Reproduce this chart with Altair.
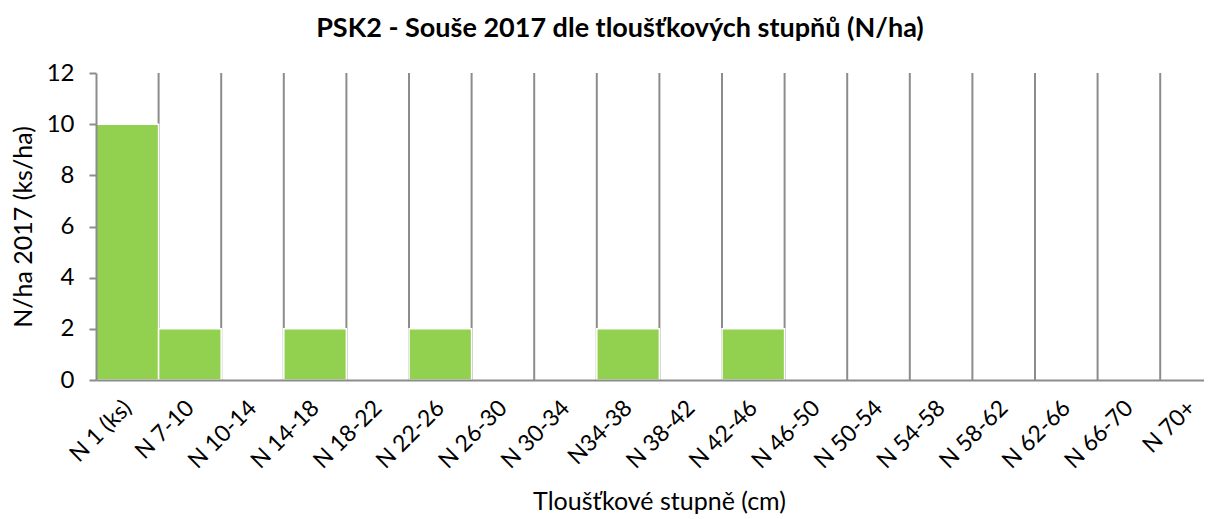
import json
import altair as alt
import pandas as pd

categories = ["N 1 (ks)", "N 7-10", "N 10-14", "N 14-18", "N 18-22", "N 22-26",
              "N 26-30", "N 30-34", "N34-38", "N 38-42", "N 42-46", "N 46-50",
              "N 50-54", "N 54-58", "N 58-62", "N 62-66", "N 66-70", "N 70+"]
values = [10, 2, 0, 2, 0, 2, 0, 0, 2, 0, 2, 0, 0, 0, 0, 0, 0, 0]
y_ticks = [0, 2, 4, 6, 8, 10, 12]

n = len(categories)
df = pd.DataFrame({"cat": categories, "val": values,
                   "pos": list(range(n)), "pos_end": [i + 1 for i in range(n)]})
grid_df = pd.DataFrame({"pos": list(range(1, n))})
label_pos = [i + 0.5 for i in range(n)]
label_expr = json.dumps(categories, ensure_ascii=False) + "[floor(datum.value)]"

FONT = "Lato"
GRAY = "#8c8c8c"
W = 1108
BAND = 62.6

xscale = alt.Scale(domain=[0, W / BAND], nice=False, zero=False)
yscale = alt.Scale(domain=[0, 12], nice=False)

xaxis = alt.Axis(values=label_pos, labelExpr=label_expr, labelAngle=-45,
                 labelFont=FONT, labelFontSize=23, labelColor="#000000",
                 ticks=False, domainColor=GRAY, domainWidth=2, labelPadding=24,
                 titleFont=FONT, titleFontSize=25, titleFontWeight="normal",
                 titleColor="#000000", titlePadding=17, titleX=563, grid=False,
                 labelAlign="right", labelBaseline="middle", labelOverlap=False,
                 labelFlush=False, zindex=1)

rules = alt.Chart(grid_df).mark_rule(color=GRAY, strokeWidth=2).encode(
    x=alt.X("pos:Q", scale=xscale, axis=xaxis, title="Tloušťkové stupně (cm)"),
)

bars = alt.Chart(df).transform_filter("datum.val > 0").mark_bar(
    color="#92D050", stroke="white", strokeWidth=1.5, clip=True
).encode(
    x=alt.X("pos:Q", scale=xscale, axis=xaxis, title="Tloušťkové stupně (cm)"),
    x2="pos_end:Q",
    y=alt.Y("val:Q", scale=yscale, title="N/ha 2017 (ks/ha)",
            axis=alt.Axis(values=y_ticks, grid=False, labelFont=FONT,
                          labelFontSize=24, labelColor="#000000", tickColor=GRAY,
                          tickSize=7, tickWidth=2, domainColor=GRAY, domainWidth=2,
                          labelPadding=15, titleFont=FONT, titleFontSize=25,
                          titleFontWeight="normal", titleColor="#000000",
                          titlePadding=10, zindex=1)),
    y2=alt.Y2(datum=0),
)

chart = alt.layer(rules, bars).properties(
    width=W,
    height=307,
    title=alt.TitleParams(
        "PSK2 - Souše 2017 dle tloušťkových stupňů  (N/ha)",
        font=FONT, fontSize=27, fontWeight="bold", color="#000000",
        anchor="start", dx=305, offset=18,
    ),
    padding={"left": 3, "top": 7, "right": 0, "bottom": 0},
).configure_view(stroke=None)

chart.save("out.html", embed_options={"renderer": "svg", "actions": False})
